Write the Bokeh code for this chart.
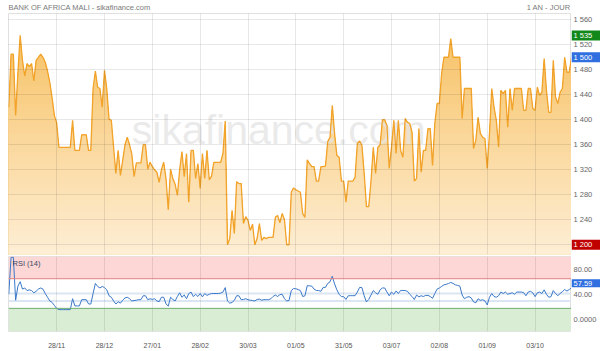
import numpy as np
from bokeh.plotting import figure
from bokeh.models import Range1d, LinearAxis, FixedTicker, Grid, Span, BoxAnnotation, Label
from bokeh.layouts import column, row
from bokeh.embed import file_html
from bokeh.resources import INLINE
from bokeh.core.properties import value

# ---------------- data ----------------
price = [
    1420, 1505, 1505, 1407, 1475, 1535, 1495, 1470, 1490, 1485,
    1490, 1462, 1495, 1500, 1505, 1500, 1492, 1478, 1460, 1435,
    1407, 1395, 1356, 1356, 1356, 1356, 1356, 1356, 1399, 1351,
    1351, 1351, 1376, 1376, 1376, 1351, 1351, 1450, 1478, 1452,
    1450, 1420, 1479, 1450, 1401, 1399, 1356, 1314, 1351, 1311,
    1335, 1360, 1372, 1360, 1345, 1309, 1331, 1331, 1331, 1360,
    1360, 1321, 1332, 1325, 1320, 1316, 1300, 1320, 1332, 1306,
    1256, 1321, 1306, 1297, 1279, 1320, 1349, 1309, 1346, 1268,
    1351, 1351, 1306, 1330, 1290, 1346, 1306, 1351, 1304, 1310,
    1332, 1332, 1332, 1332, 1346, 1398, 1200, 1210, 1255, 1218,
    1301, 1298, 1298, 1234, 1245, 1239, 1223, 1233, 1200, 1210,
    1234, 1207, 1212, 1210, 1212, 1212, 1212, 1244, 1247, 1235,
    1250, 1240, 1200, 1200, 1284, 1291, 1288, 1286, 1284, 1250,
    1244, 1336, 1330, 1325, 1325, 1302, 1302, 1325, 1325, 1326,
    1365, 1372, 1423, 1378, 1343, 1340, 1302, 1302, 1268, 1302,
    1302, 1302, 1308, 1362, 1366, 1359, 1314, 1261, 1261, 1302,
    1356, 1314, 1356, 1360, 1400, 1400, 1391, 1322, 1356, 1399,
    1346, 1399, 1351, 1340, 1402, 1396, 1394, 1380, 1302, 1306,
    1386, 1316, 1351, 1351, 1386, 1386, 1327, 1394, 1426, 1426,
    1474, 1500, 1500, 1500, 1530, 1500, 1500, 1500, 1500, 1402,
    1450, 1450, 1450, 1450, 1354, 1367, 1404, 1378, 1372, 1370,
    1322, 1378, 1450, 1420, 1399, 1356, 1447, 1442, 1447, 1388,
    1450, 1415, 1450, 1450, 1450, 1450, 1415, 1415, 1450, 1450,
    1418, 1415, 1452, 1439, 1444, 1498, 1447, 1412, 1412, 1495,
    1436, 1426, 1444, 1450, 1500, 1476, 1476, 1500,
]

rsi = [
    49, 99, 99, 41, 60, 66, 56, 57.5, 54, 55,
    54, 51, 53, 56, 57.5, 56, 50, 45, 40, 38,
    34, 30, 28.3, 28.3, 28.3, 28.3, 28.3, 28.3, 43, 33.3,
    33.3, 33.3, 41.7, 41.7, 41.7, 36, 35.8, 50, 63.7, 59.6,
    57.5, 59.6, 58, 55, 47, 45, 40, 35.8, 39, 37,
    41, 44, 45, 43, 40, 40.5, 41, 41.7, 41.7, 47,
    47, 41.7, 43, 42, 43, 40, 39, 45, 45, 36,
    33, 45, 42, 40, 46, 51, 45, 48, 43, 50,
    52, 45.8, 49, 46, 50, 45.5, 50, 47.5, 49, 50,
    50, 50, 50, 50.5, 52, 58, 40, 37, 38, 40.8,
    47, 47, 41.7, 42, 43, 41.7, 41, 40.5, 40, 42,
    42.5, 41, 41.7, 41.7, 41.7, 42.9, 46, 47.9, 46, 48.5,
    49, 43, 40, 40.5, 54, 56.7, 56.5, 55.4, 54, 46,
    47, 60.6, 60.4, 60, 56, 54.2, 54, 53, 58.3, 58.3,
    63.7, 65.8, 73.3, 63, 55, 49, 45.8, 45.8, 42, 47,
    47.1, 47.1, 47.1, 52, 58.3, 58, 47, 38.7, 42, 48,
    54, 51, 49, 55, 57.5, 57.5, 52, 47, 52, 49,
    53.5, 50, 54.2, 54.2, 54, 53, 49, 46, 42, 48,
    45.5, 47, 46, 47.5, 47.5, 46, 43.5, 50, 56, 57.5,
    59.6, 61.7, 62.5, 63.5, 65, 63.7, 61.7, 61, 60, 48,
    43, 45, 45.8, 44, 38.7, 37.5, 42.9, 40.8, 41.7, 40,
    34.6, 45, 50, 46, 45, 47, 52, 50, 52, 49,
    50, 51, 49, 52, 52, 52, 51.2, 47, 52, 53,
    51, 45.8, 51, 52, 50, 55, 49, 45, 45.8, 54,
    50, 47.1, 50, 52.5, 55.4, 53.3, 55.4, 57.59,
]

tick_idx = [21, 42, 63, 84, 105, 126, 147, 168, 189, 210, 231]
tick_labels = ["28/11", "28/12", "27/01", "28/02", "30/03", "01/05",
               "31/05", "03/07", "02/08", "01/09", "03/10"]
price_ticks = [1200, 1240, 1280, 1320, 1360, 1400, 1440, 1480, 1520, 1560]
price_tick_labels = ["1 200", "1 240", "1 280", "1 320", "1 360", "1 400",
                     "1 440", "1 480", "1 520", "1 560"]
rsi_ticks = [0, 40, 80]
rsi_tick_labels = ["0.0000", "40.00", "80.00"]

title_text = "BANK OF AFRICA MALI - sikafinance.com"
period_text = "1 AN - JOUR"
price_marks = [1535, 1500, 1200]
price_mark_labels = ["1 535", "1 500", "1 200"]
price_mark_colors = ["#13881a", "#2f6fe0", "#c00000"]
last_rsi, last_rsi_label = 57.59, "57.59"

FONT = "Liberation Sans"
FS = "7.5px"
COMMON = dict(output_backend="svg", toolbar_location=None, title=None,
              x_axis_type=None, y_axis_type=None)

x = np.arange(len(price))
xr_end = len(price) - 1
xr = Range1d(-0.13, xr_end)

# ---------------- header ----------------
head = figure(width=600, height=13, x_range=Range1d(0, 600), y_range=Range1d(0, 13),
              min_border_left=0, min_border_right=0, min_border_top=0, min_border_bottom=0,
              **COMMON)
head.outline_line_color = None
head.text(x=[8], y=[6.5], text=[title_text], text_font=value(FONT), text_font_size=FS,
          text_color="#7a7a7a", text_baseline="middle", text_align="left")
head.text(x=[570], y=[6.5], text=[period_text], text_font=value(FONT), text_font_size=FS,
          text_color="#7a7a7a", text_baseline="middle", text_align="right")

# ---------------- price panel ----------------
p1 = figure(width=571, height=243, x_range=xr, y_range=Range1d(1184.5, 1570),
            min_border_left=8, min_border_right=0, min_border_top=0, min_border_bottom=2,
            **COMMON)
p1.outline_line_color = "#e0e0e0"

pr = np.array(price, dtype=float)
base = p1.y_range.start
top = p1.y_range.end
c_top = np.array([0xf7, 0xbf, 0x5e])
c_bot = np.array([0xfe, 0xee, 0xd4])
N = 40
for k in range(N):
    lvl = top - k * (top - base) / N
    t = k / (N - 1)
    c = (c_top * (1 - t) + c_bot * t).astype(int)
    col = "#%02x%02x%02x" % tuple(c)
    p1.varea(x=x, y1=base, y2=np.minimum(pr, lvl), fill_color=col, fill_alpha=1.0)

p1.text(x=[118.5], y=[1383], text=["sikafinance.com"], text_font=value(FONT),
        text_font_size="41px", text_color="#e4e4e4", text_alpha=0.75,
        text_align="center", text_baseline="alphabetic")

p1.line(x, price, line_color="#f2a32a", line_width=1.3)

p1.add_layout(Grid(dimension=0, ticker=FixedTicker(ticks=tick_idx), grid_line_color="#000000",
                   grid_line_alpha=0.09, level="guide"))
p1.add_layout(Grid(dimension=1, ticker=FixedTicker(ticks=price_ticks), grid_line_color="#000000",
                   grid_line_alpha=0.09, level="guide"))

# right-hand price scale
s1 = figure(width=29, height=243, x_range=Range1d(0, 29), y_range=p1.y_range,
            min_border_left=0, min_border_right=0, min_border_top=0, min_border_bottom=2,
            **COMMON)
s1.outline_line_color = None
s1.text(x=2, y=price_ticks, text=price_tick_labels, text_font=value(FONT), text_font_size=FS,
        text_color="#666666", text_baseline="middle", text_align="left")
box_h = 8.0
pm = np.array(price_marks, dtype=float)
s1.quad(left=0, right=29, bottom=pm - box_h, top=pm + box_h, fill_color=price_mark_colors,
        line_color=None)
s1.text(x=2, y=price_marks, text=price_mark_labels, text_font=value(FONT), text_font_size=FS,
        text_color="white", text_baseline="middle", text_align="left")

# ---------------- RSI panel ----------------
p2 = figure(width=571, height=95, x_range=xr, y_range=Range1d(-1.25, 100),
            min_border_left=8, min_border_right=0, min_border_top=0, min_border_bottom=14,
            **COMMON)
p2.outline_line_color = "#e0e0e0"

p2.add_layout(BoxAnnotation(bottom=70, top=100, fill_color="#fdd6d6", fill_alpha=1,
                            line_color=None, level="image"))
p2.add_layout(BoxAnnotation(top=30, fill_color="#d9edd5", fill_alpha=1,
                            line_color=None, level="image"))
p2.add_layout(Span(location=70, dimension="width", line_color="#e58080", line_width=1))
p2.add_layout(Span(location=30, dimension="width", line_color="#6fae6f", line_width=1))
p2.add_layout(Span(location=50, dimension="width", line_color="#dbe6f4", line_width=2, level="underlay"))
p2.add_layout(Span(location=40, dimension="width", line_color="#dbe6f4", line_width=2, level="underlay"))
p2.add_layout(Grid(dimension=0, ticker=FixedTicker(ticks=tick_idx), grid_line_color="#000000",
                   grid_line_alpha=0.09, level="underlay"))

p2.line(x, rsi, line_color="#3a78c8", line_width=1)

p2.add_layout(Label(x=xr.start, y=100, x_offset=4, y_offset=-7, text="RSI (14)", text_font=FONT,
                    text_font_size=FS, text_color="#3a4660", text_baseline="middle"))

ax2b = LinearAxis(ticker=FixedTicker(ticks=tick_idx),
                  major_label_overrides=dict(zip(tick_idx, tick_labels)),
                  axis_line_color=None, major_tick_line_color=None, minor_tick_line_color=None,
                  major_label_text_font=FONT, major_label_text_font_size="7px",
                  major_label_text_color="#555555", major_label_standoff=4)
p2.add_layout(ax2b, "below")

# right-hand RSI scale
s2 = figure(width=29, height=95, x_range=Range1d(0, 29), y_range=Range1d(-18.75, 100),
            min_border_left=0, min_border_right=0, min_border_top=0, min_border_bottom=0,
            **COMMON)
s2.outline_line_color = None
s2.text(x=2, y=rsi_ticks, text=rsi_tick_labels, text_font=value(FONT), text_font_size=FS,
        text_color="#666666", text_baseline="middle", text_align="left")
rh = 6.25
s2.quad(left=[0], right=[29], bottom=[last_rsi - rh], top=[last_rsi + rh],
        fill_color="#2f6fe0", line_color=None)
s2.text(x=[2], y=[last_rsi], text=[last_rsi_label], text_font=value(FONT), text_font_size=FS,
        text_color="white", text_baseline="middle", text_align="left")

layout = column(head, row(p1, s1, spacing=0), row(p2, s2, spacing=0), spacing=0)
open("out.html", "w").write(file_html(layout, INLINE))
